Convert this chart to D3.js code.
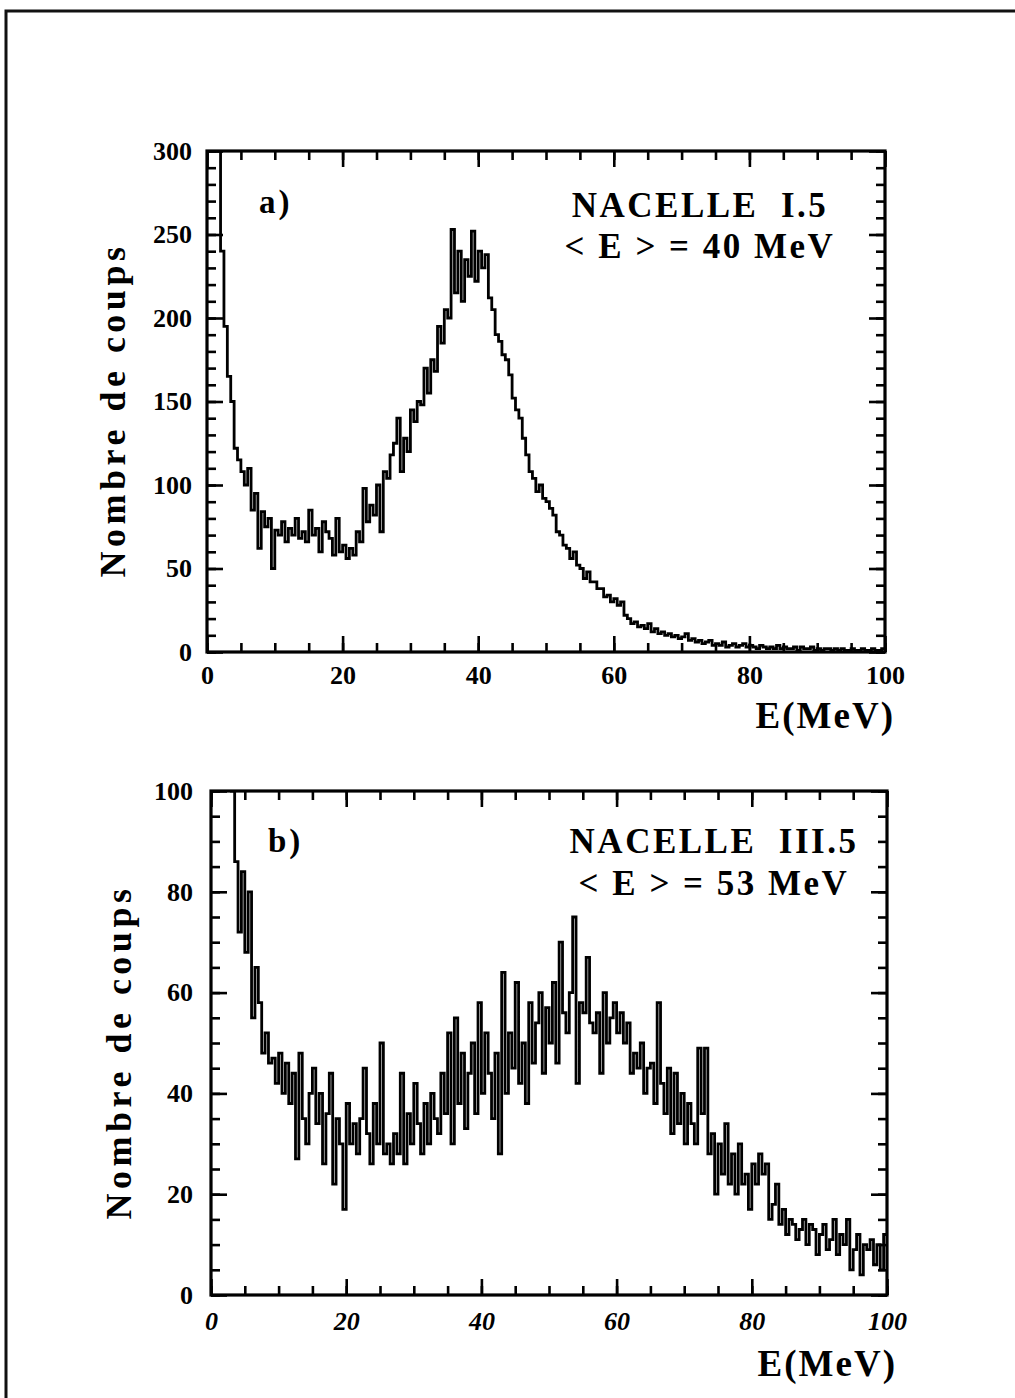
<!DOCTYPE html>
<html><head><meta charset="utf-8">
<script src="https://cdn.jsdelivr.net/npm/d3@7/dist/d3.min.js"></script>
<style>body{margin:0;background:#fff}svg{display:block}</style>
</head><body>
<svg id="c" width="1015" height="1398"></svg>
<script>
// ---- data (counts per 0.5 MeV bin, 0..100 MeV) ----
const binWidth = 0.5;
const countsA = [
 420,380,330,300,240,195,165,150,122,115,
 108,100,110,85,95,62,84,75,80,50,
 73,70,78,66,74,70,80,68,72,66,
 85,70,74,60,78,72,68,58,80,60,
 64,56,62,58,72,66,98,78,88,82,
 100,72,108,104,118,125,140,108,128,120,
 145,138,150,148,170,155,175,168,195,185,
 205,200,253,215,240,210,235,225,252,222,
 240,230,238,212,205,190,186,178,175,166,
 152,145,140,128,118,108,104,96,100,92,
 90,86,82,72,70,64,62,56,60,52,
 50,44,48,42,42,38,38,33,34,30,
 32,28,30,22,20,17,18,15,16,14,
 17,12,14,11,12,10,11,9,10,8,
 9,11,7,8,6,7,5,6,7,4,
 5,4,6,3,4,5,3,4,5,3,
 4,3,2,4,3,2,3,2,4,2,
 3,2,2,3,1,3,2,2,3,1,
 2,1,2,2,1,2,1,2,1,1,
 2,1,1,2,1,1,2,1,1,2
];
const countsB = [
 140,135,130,125,120,110,100,86,72,84,
 68,80,55,65,58,48,52,46,47,42,
 48,40,46,38,44,27,48,35,30,40,
 45,34,40,26,36,44,22,35,30,17,
 38,30,34,28,35,45,32,26,38,30,
 50,28,30,26,32,28,44,26,36,30,
 42,34,28,38,30,40,35,32,44,36,
 52,30,55,38,48,33,44,50,36,58,
 40,52,44,35,48,28,64,40,52,45,
 62,42,50,38,58,46,54,60,44,57,
 50,62,46,70,56,52,60,75,42,58,
 56,67,54,52,56,44,60,50,55,58,
 52,56,50,54,44,48,45,50,40,45,
 46,38,58,42,36,45,32,44,34,40,
 30,38,34,30,49,36,49,28,32,20,
 30,24,34,22,28,20,30,22,24,17,
 26,22,28,24,26,15,18,22,14,17,
 12,15,14,11,13,15,10,14,13,8,
 12,14,9,11,15,8,12,10,15,5,
 9,12,4,10,9,11,6,10,5,12
];
const xDomain = [0, 100];
const xTicks = [0, 20, 40, 60, 80, 100];
const xMinorTicks = d3.range(0, 101, 5);
const yTicksA = [0, 50, 100, 150, 200, 250, 300];
const yMinorTicksA = d3.range(0, 301, 10);
const yTicksB = [0, 20, 40, 60, 80, 100];
const yMinorTicksB = d3.range(0, 101, 5);
const yTitle = "Nombre de coups";
const xTitle = "E(MeV)";
const panelTags = ["a)", "b)"];
const panelTitles = [["NACELLE  I.5", "< E > = 40 MeV"], ["NACELLE  III.5", "< E > = 53 MeV"]];

// ---- drawing ----
const svg = d3.select("#c");
svg.append("rect").attr("width", 1015).attr("height", 1398).attr("fill", "#fff");
// page frame (left & top)
svg.append("path").attr("d", "M6,1398 L6,11 L1015,11")
  .attr("fill", "none").attr("stroke", "#111").attr("stroke-width", 3);

const SERIF = "'Liberation Serif','Times New Roman',serif";

function drawPanel(cfg, idx) {
  const x = d3.scaleLinear().domain(xDomain).range([cfg.left, cfg.right]);
  const y = d3.scaleLinear().domain([0, cfg.ymax]).range([cfg.bottom, cfg.top]);
  const g = svg.append("g");
  const clipId = "clip" + idx;
  svg.append("clipPath").attr("id", clipId).append("rect")
    .attr("x", cfg.left).attr("y", cfg.top)
    .attr("width", cfg.right - cfg.left).attr("height", cfg.bottom - cfg.top);

  const pts = cfg.counts.map((v, i) => [i * binWidth, v]);
  pts.push([xDomain[1], cfg.counts[cfg.counts.length - 1]]);
  const line = d3.line().x(d => x(d[0])).y(d => y(d[1])).curve(d3.curveStepAfter);
  g.append("path").datum(pts).attr("d", line)
    .attr("clip-path", "url(#" + clipId + ")")
    .attr("fill", "none").attr("stroke", "#000").attr("stroke-width", 2.8)
    .attr("stroke-linejoin", "miter");

  const MAJ = 16, MIN = 9;
  function styleAxis(sel, labelStyle) {
    sel.select(".domain").remove();
    sel.selectAll(".tick line").attr("stroke", "#000").attr("stroke-width", 2.6);
    sel.selectAll(".tick text").attr("fill", "#000")
      .style("font-family", SERIF).style("font-size", "26px").style("font-weight", "bold")
      .style("font-style", labelStyle || "normal");
  }
  const none = () => "";
  // bottom
  g.append("g").attr("transform", `translate(0,${cfg.bottom})`)
    .call(d3.axisBottom(x).tickValues(xMinorTicks).tickSize(-MIN).tickFormat(none)).call(styleAxis);
  g.append("g").attr("transform", `translate(0,${cfg.bottom})`)
    .call(d3.axisBottom(x).tickValues(xTicks).tickSize(-MAJ).tickPadding(cfg.xpad).tickFormat(d3.format("d")))
    .call(s => styleAxis(s, cfg.xItalic ? "italic" : "normal"));
  // top
  g.append("g").attr("transform", `translate(0,${cfg.top})`)
    .call(d3.axisTop(x).tickValues(xMinorTicks).tickSize(-MIN).tickFormat(none)).call(styleAxis);
  g.append("g").attr("transform", `translate(0,${cfg.top})`)
    .call(d3.axisTop(x).tickValues(xTicks).tickSize(-MAJ).tickFormat(none)).call(styleAxis);
  // left
  g.append("g").attr("transform", `translate(${cfg.left},0)`)
    .call(d3.axisLeft(y).tickValues(cfg.yMinor).tickSize(-MIN).tickFormat(none)).call(styleAxis);
  g.append("g").attr("transform", `translate(${cfg.left},0)`)
    .call(d3.axisLeft(y).tickValues(cfg.yTicks).tickSize(-MAJ).tickPadding(cfg.ypad).tickFormat(d3.format("d")))
    .call(styleAxis);
  // right
  g.append("g").attr("transform", `translate(${cfg.right},0)`)
    .call(d3.axisRight(y).tickValues(cfg.yMinor).tickSize(-MIN).tickFormat(none)).call(styleAxis);
  g.append("g").attr("transform", `translate(${cfg.right},0)`)
    .call(d3.axisRight(y).tickValues(cfg.yTicks).tickSize(-MAJ).tickFormat(none)).call(styleAxis);

  // frame
  g.append("rect").attr("x", cfg.left).attr("y", cfg.top)
    .attr("width", cfg.right - cfg.left).attr("height", cfg.bottom - cfg.top)
    .attr("fill", "none").attr("stroke", "#000").attr("stroke-width", 3.2);

  // y title
  g.append("text")
    .attr("transform", `translate(${cfg.yTitleX},${cfg.yTitleY}) rotate(-90)`)
    .attr("text-anchor", "middle")
    .style("font-family", SERIF).style("font-weight", "bold").style("font-size", "36px")
    .style("letter-spacing", "4.5px").text(yTitle);
  // x title
  g.append("text").attr("x", cfg.right + 10).attr("y", cfg.xTitleY)
    .attr("text-anchor", "end")
    .style("font-family", SERIF).style("font-weight", "bold").style("font-size", "37px")
    .style("letter-spacing", "2px").text(xTitle);
  // tag
  g.append("text").attr("x", cfg.tagX).attr("y", cfg.tagY)
    .style("font-family", SERIF).style("font-weight", "bold").style("font-size", "33px")
    .style("letter-spacing", "3px").text(panelTags[idx]);
  // titles
  panelTitles[idx].forEach((t, k) => {
    g.append("text").attr("x", cfg.titleX).attr("y", cfg.titleY[k])
      .attr("text-anchor", "middle").attr("xml:space", "preserve")
      .style("white-space", "pre")
      .style("font-family", SERIF).style("font-weight", "bold").style("font-size", "35px")
      .style("letter-spacing", "2.5px").text(t);
  });
}

drawPanel({counts: countsA, ymax: 300, left: 207, right: 885, top: 151, bottom: 652,
  yTicks: yTicksA, yMinor: yMinorTicksA, xpad: 14, ypad: 15, xItalic: false,
  yTitleX: 125, yTitleY: 410, xTitleY: 728, tagX: 259, tagY: 213,
  titleX: 700, titleY: [217, 258]}, 0);
drawPanel({counts: countsB, ymax: 100, left: 211, right: 887, top: 791, bottom: 1295,
  yTicks: yTicksB, yMinor: yMinorTicksB, xpad: 17, ypad: 18, xItalic: true,
  yTitleX: 131, yTitleY: 1052, xTitleY: 1376, tagX: 268, tagY: 852,
  titleX: 714, titleY: [853, 895]}, 1);
</script>
</body></html>
